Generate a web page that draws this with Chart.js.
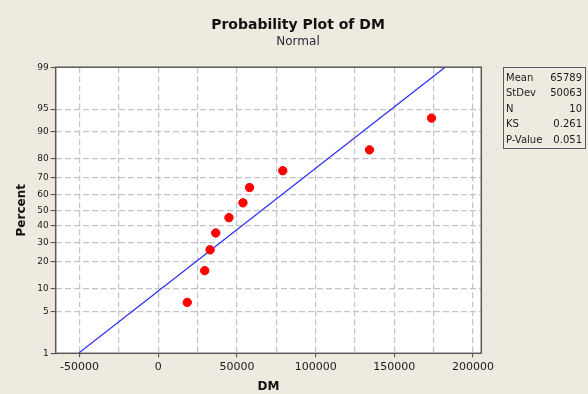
<!DOCTYPE html>
<html>
<head>
<meta charset="utf-8">
<script src="https://cdn.jsdelivr.net/npm/chart.js@4.4.1/dist/chart.umd.min.js"></script>
<style>
  html, body { margin: 0; padding: 0; background: #EEEAE0; }
  #wrap { width: 588px; height: 394px; position: relative; }
</style>
</head>
<body>
<div id="wrap"><canvas id="c" width="588" height="394"></canvas></div>
<script>
// ---- data ----
const dmValues = [18400, 29500, 32900, 36500, 44900, 53800, 58000, 79100, 134200, 173600];
const percentValues = [6.7, 16.3, 26.0, 35.6, 45.2, 54.8, 64.4, 74.0, 83.7, 93.3];
const percentTicks = [1, 5, 10, 20, 30, 40, 50, 60, 70, 80, 90, 95, 99];
const xTicks = [-50000, -25000, 0, 25000, 50000, 75000, 100000, 125000, 150000, 175000, 200000];
const statLabels = ['Mean', 'StDev', 'N', 'KS', 'P-Value'];
const statValues = ['65789', '50063', '10', '0.261', '0.051'];
const fitMean = 65789;
const fitStDev = 50063;

// inverse standard normal CDF (Acklam)
function probit(p) {
  const a = [-3.969683028665376e+01, 2.209460984245205e+02, -2.759285104469687e+02, 1.383577518672690e+02, -3.066479806614716e+01, 2.506628277459239e+00];
  const b = [-5.447609879822406e+01, 1.615858368580409e+02, -1.556989798598866e+02, 6.680131188771972e+01, -1.328068155288572e+01];
  const c = [-7.784894002430293e-03, -3.223964580411365e-01, -2.400758277161838e+00, -2.549732539343734e+00, 4.374664141464968e+00, 2.938163982698783e+00];
  const d = [7.784695709041462e-03, 3.224671290700398e-01, 2.445134137142996e+00, 3.754408661907416e+00];
  const pl = 0.02425, ph = 1 - pl;
  let q, r;
  if (p < pl) {
    q = Math.sqrt(-2 * Math.log(p));
    return (((((c[0]*q+c[1])*q+c[2])*q+c[3])*q+c[4])*q+c[5]) / ((((d[0]*q+d[1])*q+d[2])*q+d[3])*q+1);
  } else if (p <= ph) {
    q = p - 0.5; r = q * q;
    return (((((a[0]*r+a[1])*r+a[2])*r+a[3])*r+a[4])*r+a[5])*q / (((((b[0]*r+b[1])*r+b[2])*r+b[3])*r+b[4])*r+1);
  } else {
    q = Math.sqrt(-2 * Math.log(1 - p));
    return -(((((c[0]*q+c[1])*q+c[2])*q+c[3])*q+c[4])*q+c[5]) / ((((d[0]*q+d[1])*q+d[2])*q+d[3])*q+1);
  }
}

const zMin = probit(percentTicks[0] / 100);
const zMax = probit(percentTicks[percentTicks.length - 1] / 100);
const zTicks = percentTicks.map(p => probit(p / 100));

const points = dmValues.map((x, i) => ({ x: x, y: probit(percentValues[i] / 100) }));
const fitLine = [
  { x: fitMean + zMin * fitStDev, y: zMin },
  { x: fitMean + zMax * fitStDev, y: zMax }
];

const FONT = '"DejaVu Sans", Tahoma, sans-serif';

const plotBox = {
  id: 'plotBox',
  beforeDraw(chart) {
    const { ctx, chartArea: a } = chart;
    ctx.save();
    ctx.fillStyle = '#FFFFFF';
    ctx.fillRect(a.left, a.top, a.right - a.left, a.bottom - a.top);
    ctx.restore();
  },
  afterDatasetsDraw(chart) {
    const { ctx, chartArea: a } = chart;
    ctx.save();
    ctx.strokeStyle = '#5A5A5A';
    ctx.lineWidth = 1.5;
    ctx.strokeRect(a.left, a.top, a.right - a.left, a.bottom - a.top);
    ctx.restore();
  },
  afterDraw(chart) {
    const ctx = chart.ctx;
    const bx = 503.5, by = 67.5, bw = 82, bh = 81;
    ctx.save();
    ctx.strokeStyle = '#5A5A5A';
    ctx.lineWidth = 1;
    ctx.strokeRect(bx, by, bw, bh);
    ctx.font = '10px ' + FONT;
    ctx.fillStyle = '#1a1a1a';
    ctx.textBaseline = 'middle';
    statLabels.forEach((lab, i) => {
      const y = 78.5 + i * 15.4;
      ctx.textAlign = 'left';
      ctx.fillText(lab, 506, y);
      ctx.textAlign = 'right';
      ctx.fillText(statValues[i], 582, y);
    });
    ctx.restore();
  }
};

new Chart(document.getElementById('c'), {
  type: 'scatter',
  data: {
    datasets: [
      {
        label: 'DM',
        data: points,
        backgroundColor: '#FF0000',
        borderColor: '#FF0000',
        pointRadius: 4.2,
        pointHoverRadius: 4.2,
        showLine: false,
        order: 1
      },
      {
        label: 'Fit',
        data: fitLine,
        showLine: true,
        borderColor: '#2E2EFF',
        borderWidth: 1.2,
        pointRadius: 0,
        fill: false,
        order: 2
      }
    ]
  },
  options: {
    responsive: false,
    animation: false,
    devicePixelRatio: 1,
    layout: { padding: { left: 8, right: 0, top: 0, bottom: 0 } },
    plugins: {
      legend: { display: false },
      tooltip: { enabled: false },
      title: {
        display: true,
        text: 'Probability Plot of DM',
        color: '#111111',
        font: { family: FONT, size: 14, weight: 'bold' },
        padding: { top: 17, bottom: 0 }
      },
      subtitle: {
        display: true,
        text: 'Normal',
        color: '#2a2a3a',
        font: { family: FONT, size: 12 },
        padding: { top: 1, bottom: 18 }
      }
    },
    scales: {
      x: {
        type: 'linear',
        min: -65190,
        max: 205250,
        afterBuildTicks(scale) { scale.ticks = xTicks.map(v => ({ value: v })); },
        afterFit(scale) { scale.height = 40.7; },
        ticks: {
          autoSkip: false,
          maxRotation: 0,
          color: '#1a1a1a',
          font: { family: FONT, size: 11 },
          padding: 3,
          callback: v => (v % 50000 === 0 ? String(v) : '')
        },
        grid: {
          color: '#C4C4C4',
          lineWidth: 1.2,
          tickLength: 4,
          tickColor: ctx => (ctx.tick && ctx.tick.value % 50000 === 0 ? '#444444' : 'rgba(0,0,0,0)'),
          tickWidth: 1
        },
        border: { display: false, dash: [6, 3] },
        title: {
          display: true,
          text: 'DM',
          color: '#111111',
          font: { family: FONT, size: 12, weight: 'bold' },
          padding: { top: 0, bottom: 0 }
        }
      },
      y: {
        type: 'linear',
        min: zMin,
        max: zMax,
        afterBuildTicks(scale) { scale.ticks = zTicks.map(v => ({ value: v })); },
        afterFit(scale) { scale.width = 47.7; },
        ticks: {
          autoSkip: false,
          color: '#1a1a1a',
          font: { family: FONT, size: 9 },
          padding: 2,
          callback: (v, i) => String(percentTicks[i])
        },
        grid: {
          color: ctx => (ctx.index === 0 || ctx.index === percentTicks.length - 1 ? 'rgba(0,0,0,0)' : '#C4C4C4'),
          lineWidth: 1.2,
          tickLength: 5,
          tickColor: '#444444',
          tickWidth: 1
        },
        border: { display: false, dash: [6, 3] },
        title: {
          display: true,
          text: 'Percent',
          color: '#111111',
          font: { family: FONT, size: 12, weight: 'bold' },
          padding: { top: 7, bottom: 0 }
        }
      },
      side: {
        type: 'linear',
        position: 'right',
        min: zMin,
        max: zMax,
        afterFit(scale) { scale.width = 106.7; },
        ticks: { display: false },
        grid: { display: false, drawOnChartArea: false },
        border: { display: false },
        title: { display: false }
      }
    }
  },
  plugins: [plotBox]
});
</script>
</body>
</html>
